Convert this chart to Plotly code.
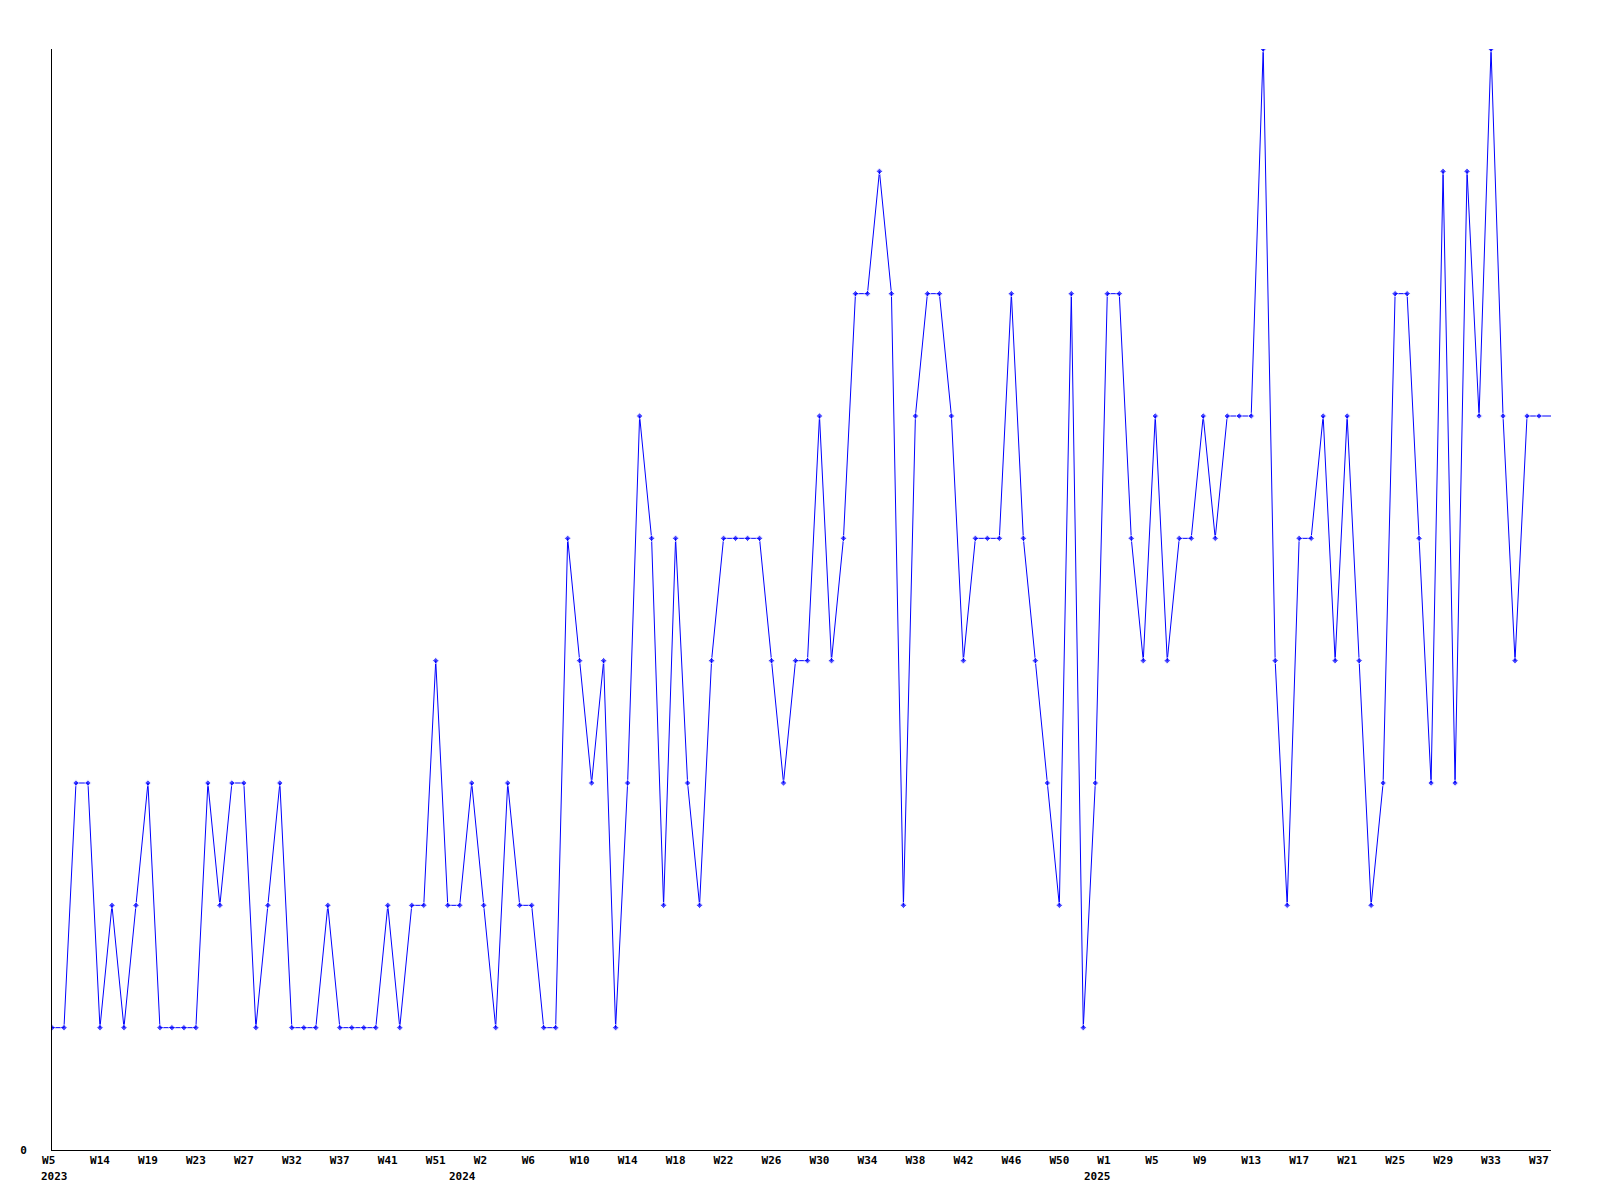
import plotly.graph_objects as go

# weekly counts, one value per sample (last sample has no marker in the original)
values = [
    1, 1, 3, 3, 1, 2, 1, 2, 3, 1, 1, 1, 1, 3, 2, 3, 3, 1, 2, 3,
    1, 1, 1, 2, 1, 1, 1, 1, 2, 1, 2, 2, 4, 2, 2, 3, 2, 1, 3, 2,
    2, 1, 1, 5, 4, 3, 4, 1, 3, 6, 5, 2, 5, 3, 2, 4, 5, 5, 5, 5,
    4, 3, 4, 4, 6, 4, 5, 7, 7, 8, 7, 2, 6, 7, 7, 6, 4, 5, 5, 5,
    7, 5, 4, 3, 2, 7, 1, 3, 7, 7, 5, 4, 6, 4, 5, 5, 6, 5, 6, 6,
    6, 9, 4, 2, 5, 5, 6, 4, 6, 4, 2, 3, 7, 7, 5, 3, 8, 3, 8, 6,
    9, 6, 4, 6, 6, 6,
]

# x tick labels, one every 4 samples
week_labels = [
    "W5", "W14", "W19", "W23", "W27", "W32", "W37", "W41", "W51",
    "W2", "W6", "W10", "W14", "W18", "W22", "W26", "W30", "W34",
    "W38", "W42", "W46", "W50",
    "W1", "W5", "W9", "W13", "W17", "W21", "W25", "W29", "W33", "W37",
]
tick_step = 4

# year captions under the week row and the sample where each year begins
years = ["2023", "2024", "2025"]
year_start = [0, 34, 87]

x = list(range(len(values)))
marker_sizes = [5] * (len(values) - 1) + [0]

font = dict(family="DejaVu Sans Mono", size=11, color="black", weight="bold")

fig = go.Figure()
fig.add_trace(go.Scatter(
    x=x,
    y=values,
    mode="lines+markers",
    line=dict(color="#0000ff", width=1),
    marker=dict(symbol="diamond", size=marker_sizes, color="#0000ff"),
    hoverinfo="skip",
))

# labels are drawn as 3 fixed-width cells, so pad the short ones
tick_text = [w.ljust(3, "\u00a0") for w in week_labels]

for yr, start in zip(years, year_start):
    fig.add_annotation(
        x=start, y=0, xref="x", yref="paper",
        text=yr, showarrow=False,
        xanchor="left", yanchor="top",
        xshift=-13, yshift=-18,
        font=font,
    )

# the page body has an 8px margin, so the margins are shifted to compensate
fig.update_layout(
    width=1600,
    height=1200,
    margin=dict(l=42, r=57, t=41, b=58),
    paper_bgcolor="white",
    plot_bgcolor="white",
    showlegend=False,
    font=font,
)
fig.update_xaxes(
    range=[0, len(values) - 1],
    tickvals=x[::tick_step][:len(week_labels)],
    ticktext=tick_text,
    tickfont=font,
    showgrid=False,
    zeroline=False,
    showline=True,
    linecolor="black",
    linewidth=1,
    ticks="",
)
fig.update_yaxes(
    range=[0, 9],
    tickvals=[0],
    ticktext=["0"],
    tickfont=font,
    ticklabelstandoff=22,
    showgrid=False,
    zeroline=False,
    showline=True,
    linecolor="black",
    linewidth=1,
    ticks="",
)

fig.write_html("out.html")
